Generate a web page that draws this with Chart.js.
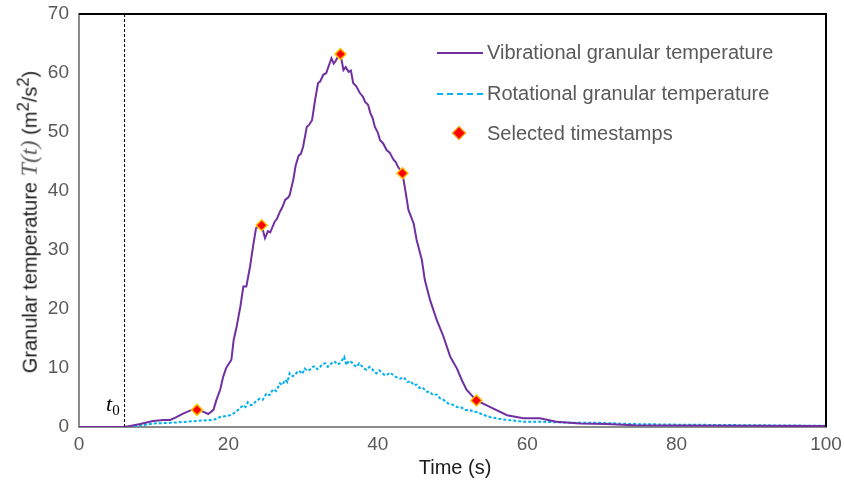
<!DOCTYPE html>
<html>
<head>
<meta charset="utf-8">
<script src="https://cdn.jsdelivr.net/npm/chart.js@4"></script>
<style>
  html, body { margin: 0; padding: 0; background: #fff; }
  #wrap { position: relative; width: 844px; height: 486px; font-family: "Liberation Sans", Arial, sans-serif; }
  #chart { position: absolute; left: 0; top: 0; }
  .yTitle { position: absolute; left: 28px; top: 222px; transform: translate(-50%, -50%) rotate(-90deg); white-space: nowrap; font-size: 20px; color: #1a1a1a; }
  .yTitle .math { font-family: "Liberation Serif", "DejaVu Serif", serif; font-style: italic; font-size: 24px; color: #595959; }
  .xTitle { position: absolute; left: 455px; top: 467px; transform: translate(-50%, -50%); font-size: 20px; color: #1a1a1a; }
  .t0 { position: absolute; left: 106px; top: 391px; font-family: "Liberation Serif", serif; font-style: italic; font-size: 22px; color: #000; }
  .t0 sub { font-style: normal; font-size: 15px; vertical-align: -4px; }
  .legend { position: absolute; left: 437px; top: 40px; font-size: 20px; color: #595959; }
  .legend div { position: relative; height: 40.5px; line-height: 24px; padding-left: 50px; }
  .legend .swatch { position: absolute; left: 0; top: 12px; width: 46px; height: 0; }
  .legend .diamond { position: absolute; left: 17px; top: 7px; width: 8px; height: 8px; background: #ff0000; border: 1.5px solid #ffc000; transform: rotate(45deg); }
</style>
</head>
<body>
<div id="wrap">
  <canvas id="chart" width="844" height="486"></canvas>
  <div class="yTitle">Granular temperature <span class="math">T</span><span class="math">(t)</span> (m<sup>2</sup>/s<sup>2</sup>)</div>
  <div class="xTitle">Time (s)</div>
  <div class="t0">t<sub>0</sub></div>
  <div class="legend">
    <div><span class="swatch" style="border-top: 2px solid #7030a0;"></span>Vibrational granular temperature</div>
    <div><span class="swatch" style="border-top: 2px dashed #00b0f0;"></span>Rotational granular temperature</div>
    <div><span class="diamond"></span>Selected timestamps</div>
  </div>
</div>
<script>
// 진동 입상 온도
const vibTime = [0, 3, 6.1, 7, 8.2, 9.9, 11.3, 12.2, 12.9, 14.0, 15.1, 15.8, 16.6, 17.3, 18.0, 18.4, 18.9, 19.3, 19.7, 20.4, 20.7, 21.1, 21.6, 22.0, 22.4, 22.9, 23.3, 23.7, 24.45, 24.9, 25.3, 25.6, 26.2, 26.5, 26.9, 27.2, 27.6, 28.0, 28.2, 28.7, 29.0, 29.4, 29.7, 30.0, 30.5, 30.8, 31.2, 31.6, 32.0, 32.3, 32.7, 33.1, 33.4, 33.8, 34.1, 34.3, 34.6, 35.0, 35.4, 35.7, 36.1, 36.4, 36.7, 37.1, 37.6, 38.0, 38.3, 38.7, 39.0, 39.3, 39.6, 40.0, 40.3, 40.7, 41.2, 41.6, 42.1, 42.4, 42.7, 43.3, 43.7, 44.1, 44.8, 45.2, 45.9, 46.3, 47.0, 47.9, 48.8, 49.7, 50.6, 51.3, 51.9, 53.2, 55.0, 57.3, 59.5, 61.7, 63.9, 67.1, 70.6, 74.2, 80, 90, 100];
const vibTemp = [0, 0, 0, 0.2, 0.5, 1.0, 1.2, 1.2, 1.6, 2.3, 2.9, 2.9, 2.6, 2.2, 2.9, 4.6, 6.3, 8.5, 10.0, 11.4, 14.7, 17.0, 20.4, 23.8, 23.8, 27.2, 30.6, 33.7, 34.2, 32.0, 33.2, 33.0, 34.8, 35.3, 36.5, 37.2, 38.5, 38.9, 39.3, 42.0, 44.3, 46.0, 46.3, 47.5, 50.9, 51.2, 52.0, 55.4, 58.3, 58.6, 59.7, 60.0, 61.1, 62.5, 61.6, 61.9, 62.6, 63.2, 60.5, 61.0, 60.2, 60.4, 58.3, 57.8, 56.6, 56.0, 55.1, 54.6, 53.2, 52.4, 50.9, 49.9, 48.6, 48.1, 46.9, 46.5, 45.3, 44.9, 44.1, 43.0, 40.0, 36.8, 34.5, 31.7, 28.3, 24.9, 21.5, 18.1, 15.3, 11.9, 9.9, 7.8, 6.3, 4.5, 3.4, 2.0, 1.5, 1.5, 0.9, 0.6, 0.5, 0.3, 0.25, 0.2, 0.15];

// 회전 입상 온도
const rotTime = [0, 6.1, 7, 8.5, 9.9, 12.2, 14.4, 16.6, 18.0, 18.9, 20.2, 20.7, 21.3, 22.0, 22.3, 22.6, 23.0, 23.3, 23.7, 24.2, 24.6, 25.1, 25.5, 26.0, 26.4, 26.9, 27.2, 27.6, 27.9, 28.2, 28.6, 28.9, 29.3, 29.6, 29.9, 30.2, 30.6, 30.9, 31.3, 31.6, 31.9, 32.3, 32.6, 33.0, 33.3, 33.6, 34.0, 34.3, 34.6, 34.9, 35.2, 35.5, 35.8, 36.1, 36.5, 36.8, 37.2, 37.5, 37.8, 38.2, 38.5, 38.9, 39.2, 39.5, 39.8, 40.2, 40.5, 40.9, 41.2, 41.6, 42.0, 42.4, 43.0, 43.5, 44.0, 44.4, 44.8, 45.2, 45.6, 46.0, 46.5, 47.0, 47.4, 47.9, 48.3, 48.8, 49.4, 50.0, 50.6, 51.2, 51.7, 52.3, 52.8, 53.4, 54.0, 55.0, 56.2, 57.3, 59.5, 61.7, 64, 66.2, 69.7, 74, 80, 85, 90, 95, 100];
const rotTemp = [0, 0, 0.1, 0.3, 0.6, 0.7, 0.9, 1.1, 1.2, 1.7, 2.0, 2.3, 2.9, 3.7, 3.4, 4.2, 3.7, 3.8, 4.4, 4.8, 4.6, 5.7, 5.4, 6.4, 6.1, 7.4, 7.1, 8.0, 7.6, 9.1, 8.6, 8.8, 9.5, 9.4, 9.0, 9.9, 9.5, 9.7, 10.2, 10.3, 9.8, 10.2, 10.7, 10.8, 10.2, 10.5, 11.1, 11.0, 10.6, 10.8, 11.3, 11.9, 10.5, 11.2, 11.0, 10.5, 10.2, 10.8, 10.4, 9.9, 9.7, 10.2, 9.9, 9.4, 9.1, 9.6, 9.3, 8.8, 8.8, 9.2, 8.9, 8.5, 8.2, 8.4, 7.6, 7.8, 7.1, 7.2, 6.6, 6.7, 6.0, 5.9, 5.4, 5.5, 4.9, 4.6, 4.0, 3.8, 3.4, 3.3, 2.9, 2.9, 2.6, 2.5, 2.1, 1.7, 1.4, 1.2, 0.9, 0.9, 0.8, 0.7, 0.7, 0.5, 0.4, 0.35, 0.3, 0.25, 0.2];

// 선택된 시점
const markTime = [15.8, 24.45, 35.0, 43.3, 53.2];
const markTemp = [2.9, 34.2, 63.2, 43.0, 4.5];

const t0 = 6.1;
const xTicks = [0, 20, 40, 60, 80, 100];

const toPoints = (xs, ys) => xs.map((x, i) => ({ x: x, y: ys[i] }));

// 테두리 + t0 점선
const framePlugin = {
  id: "frame",
  afterDatasetsDraw(chart) {
    const { ctx, chartArea: a, scales } = chart;
    ctx.save();
    // t0 점선
    const px = scales.x.getPixelForValue(t0);
    ctx.strokeStyle = "#000";
    ctx.lineWidth = 1;
    ctx.setLineDash([3, 2]);
    ctx.beginPath();
    ctx.moveTo(px, a.top);
    ctx.lineTo(px, a.bottom);
    ctx.stroke();
    ctx.setLineDash([]);
    // 위, 오른쪽 테두리
    ctx.strokeStyle = "#000";
    ctx.lineWidth = 2;
    ctx.beginPath();
    ctx.moveTo(a.left, a.top);
    ctx.lineTo(a.right, a.top);
    ctx.lineTo(a.right, a.bottom);
    ctx.stroke();
    ctx.restore();
  }
};

const tickFont = { family: "'Liberation Sans', Arial, sans-serif", size: 19 };

new Chart(document.getElementById("chart"), {
  type: "line",
  data: {
    datasets: [
      {
        label: "Selected timestamps",
        data: toPoints(markTime, markTemp),
        showLine: false,
        pointStyle: "rectRot",
        pointRadius: 5.5,
        pointBackgroundColor: "#ff0000",
        pointBorderColor: "#ffc000",
        pointBorderWidth: 1.5,
        order: 0
      },
      {
        label: "Vibrational granular temperature",
        data: toPoints(vibTime, vibTemp),
        borderColor: "#7030a0",
        borderWidth: 2,
        pointRadius: 0,
        tension: 0,
        order: 1
      },
      {
        label: "Rotational granular temperature",
        data: toPoints(rotTime, rotTemp),
        borderColor: "#00b0f0",
        borderWidth: 2,
        borderDash: [3, 2],
        pointRadius: 0,
        tension: 0,
        order: 2
      }
    ]
  },
  options: {
    responsive: false,
    animation: false,
    layout: { padding: { left: 0, top: 14, right: 18, bottom: 0 } },
    plugins: { legend: { display: false }, tooltip: { enabled: false } },
    scales: {
      x: {
        type: "linear",
        min: 0,
        max: 100,
        afterBuildTicks: (axis) => { axis.ticks = xTicks.map((v) => ({ value: v })); },
        afterFit: (axis) => { axis.height = 59; axis.paddingLeft = 0; axis.paddingRight = 0; },
        grid: { display: false, drawTicks: false },
        border: { color: "#8c8c8c", width: 2 },
        ticks: { font: tickFont, color: "#595959", padding: 6, maxRotation: 0 }
      },
      y: {
        min: 0,
        max: 70,
        afterFit: (axis) => { axis.width = 79; axis.paddingTop = 0; axis.paddingBottom = 0; },
        grid: { display: false, drawTicks: false },
        border: { color: "#8c8c8c", width: 2 },
        ticks: { stepSize: 10, font: tickFont, color: "#595959", padding: 10 }
      }
    }
  },
  plugins: [framePlugin]
});
</script>
</body>
</html>
